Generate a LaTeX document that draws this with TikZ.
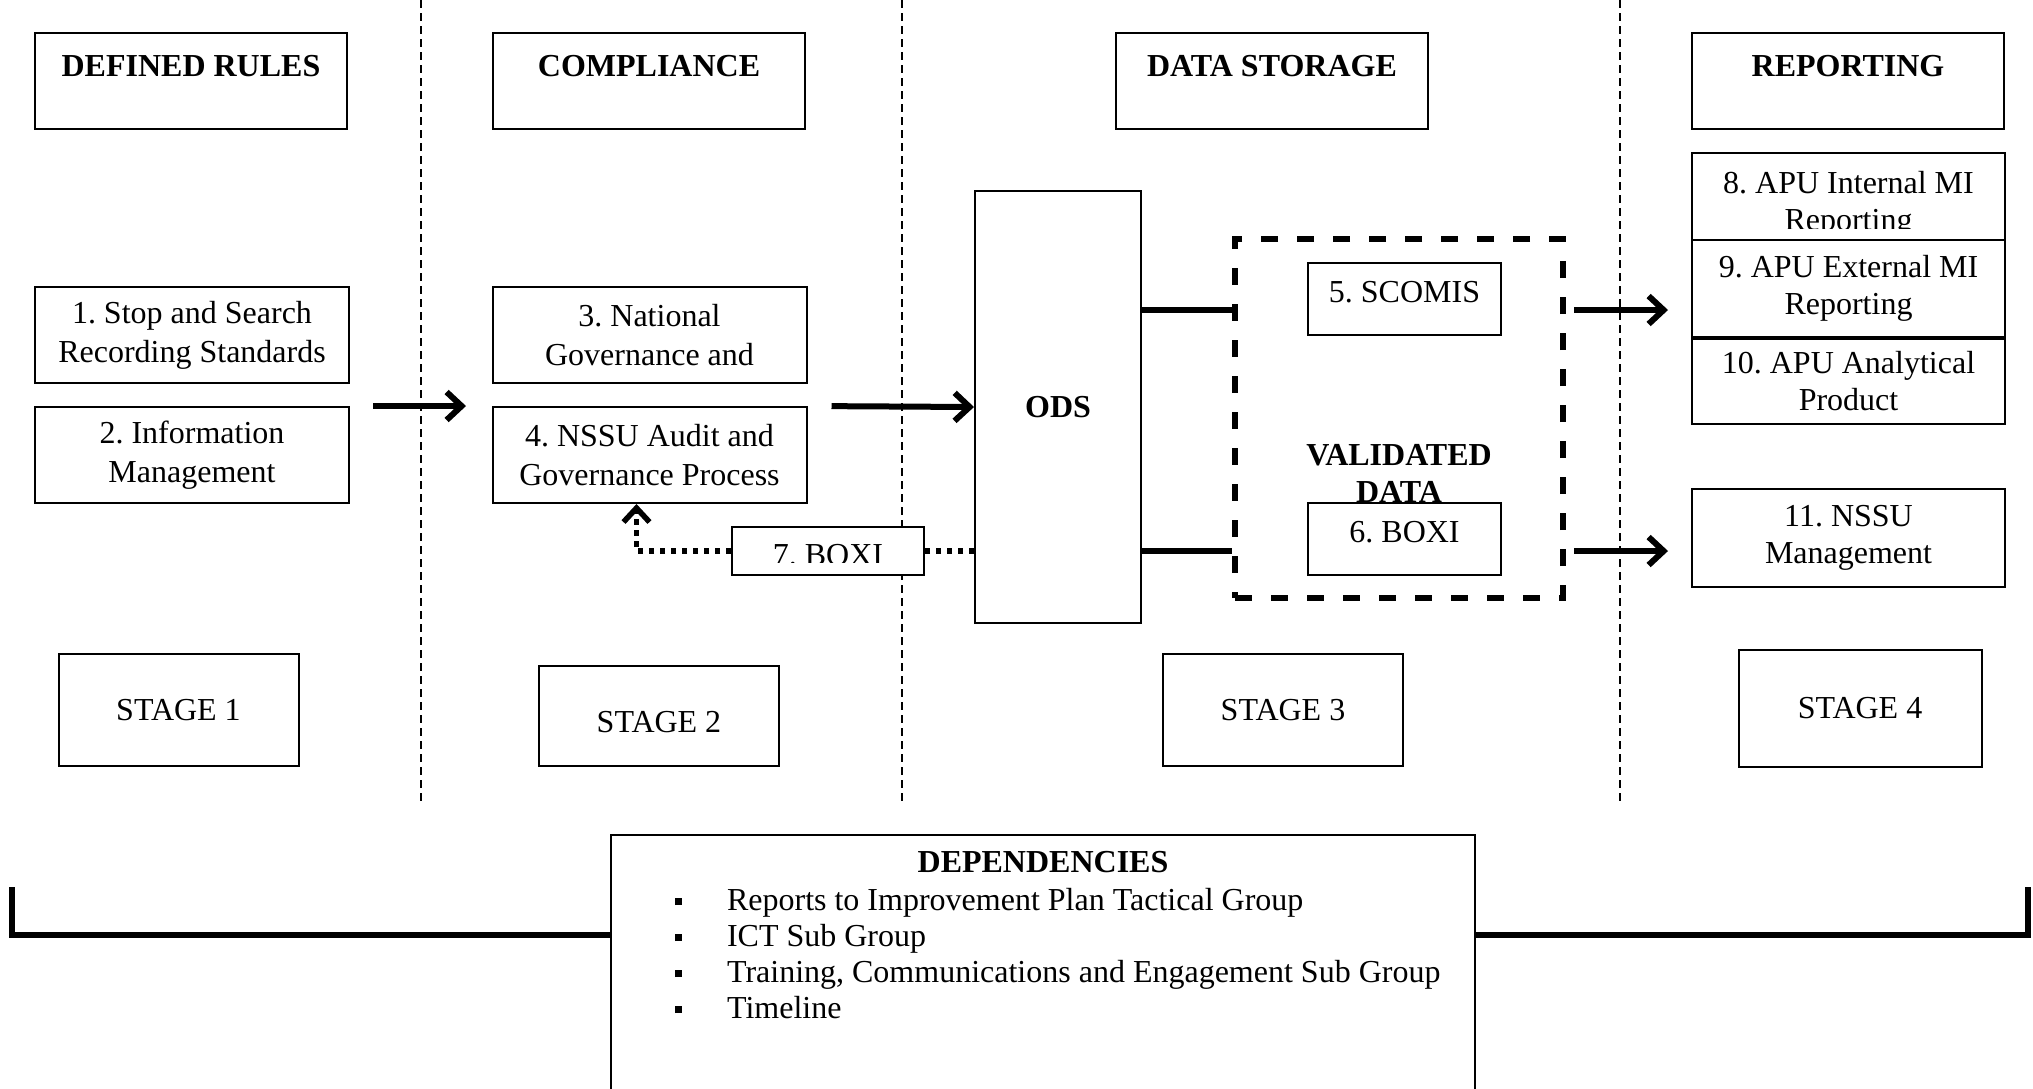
\documentclass[tikz,border=0pt]{standalone}
\usepackage{fontspec}
\setmainfont{Liberation Serif}
\usetikzlibrary{arrows.meta,positioning}
\frenchspacing

\tikzset{
  box/.style={draw, line width=1pt, align=center, inner sep=0pt, font=\fontsize{16}{19.5}\selectfont},
  headbox/.style={box, anchor=north, minimum width=156pt, text height=21.75pt, text depth=26.25pt, font=\fontsize{16}{19.5}\selectfont\bfseries},
  itembox/.style={box, minimum width=157pt, minimum height=48pt},
  repbox/.style={box, minimum width=156.5pt, font=\fontsize{16}{18.5}\selectfont},
  smallbox/.style={box, fill=white, minimum width=96.5pt, text height=19.75pt, text depth=16.25pt},
  stagebox/.style={box, minimum width=120pt, minimum height=56pt},
  pagesep/.style={line width=0.75pt, dash pattern=on 4pt off 2.5pt},
  flow/.style={line width=3pt, -{Straight Barb[length=7.5pt,width=14pt]}},
  link/.style={line width=3pt},
  dotflow/.style={line width=2.75pt, dash pattern=on 2.75pt off 2.75pt},
  valbox/.style={draw, line width=3pt, dash pattern=on 8.5pt off 9.5pt, inner sep=0pt, minimum width=164pt, minimum height=179.5pt},
}

\begin{document}
\begin{tikzpicture}[x=0.5pt, y=-0.5pt]
    \useasboundingbox (0,0) rectangle (2033,1088);
    \clip (0,0) rectangle (2033,1088);
    % Stage separators
    \draw[pagesep] (421,0) -- (421,801);
    \draw[pagesep] (902,0) -- (902,801);
    \draw[pagesep] (1620,0) -- (1620,801);
    % Headings
    \node[headbox] (rules) at (191,32) {DEFINED RULES};
    \node[headbox] (compl) at (649,32) {COMPLIANCE};
    \node[headbox] (store) at (1272,32) {DATA STORAGE};
    \node[headbox] (report) at (1848,32) {REPORTING};
    % Rules and compliance
    \node[itembox] (stop) at (192,335) {1. Stop and Search\\Recording Standards};
    \node[itembox] (info) at (192,455) {2. Information\\Management};
    \node[itembox] (natgov) at (649.5,335) {3. National\\Governance and};
    \node[itembox] (audit) at (649.5,455) {4. NSSU Audit and\\Governance Process};
    % Data storage
    \node[box, minimum width=83pt, minimum height=216pt, font=\fontsize{16}{19.5}\selectfont\bfseries] (ods) at (1058,407) {ODS};
    \node[valbox] (valid) at (1399,418.5) {};
    \node[font=\fontsize{16}{18.5}\selectfont\bfseries, align=center] (vtext) at (1399,473.5) {VALIDATED\\DATA};
    \node[smallbox] (scomis) at (1404.5,299) {5. SCOMIS};
    \node[smallbox] (boxi6) at (1404.5,539) {6. BOXI};
    % Reporting
    \node[repbox, minimum height=43.5pt] (mi8) at (1848.5,196.5) {};
    \begin{scope}
      \clip (mi8.north west) rectangle ([yshift=-15.75pt]mi8.east);
      \node[repbox, draw=none] (mi8txt) at (1848.5,204) {8. APU Internal MI\\Reporting};
    \end{scope}
    \node[repbox, minimum height=48.5pt] (mi9) at (1848.5,288.5) {9. APU External MI\\Reporting};
    \node[repbox, minimum height=42.5pt] (mi10) at (1848.5,381) {10. APU Analytical\\Product};
    \node[repbox, minimum height=49pt] (nssu) at (1848.5,538) {11. NSSU\\Management};
    % Stages
    \node[stagebox] (st1) at (178.5,710) {STAGE 1};
    \node[stagebox, minimum height=50pt, text height=16.6pt] (st2) at (659,716) {STAGE 2};
    \node[stagebox] (st3) at (1283,710) {STAGE 3};
    \node[stagebox, minimum width=121.5pt, minimum height=58.5pt] (st4) at (1860,708) {STAGE 4};
    % Flow
    \coordinate (hiY) at (0,310);
    \coordinate (loY) at (0,551);
    \draw[flow, shorten <=11.5pt, shorten >=12.75pt] (info.north east) -- (audit.north west);
    \draw[flow, shorten <=12pt] (audit.north east) -- (ods.west);
    \draw[link] (ods.east |- hiY) -- (valid.west |- hiY);
    \draw[link] (ods.east |- loY) -- (valid.west |- loY);
    \draw[flow, shorten <=4pt, shorten >=11.5pt] (valid.east |- hiY) -- (mi9.west |- hiY);
    \draw[flow, shorten <=4pt, shorten >=11.5pt] (valid.east |- loY) -- (nssu.west |- loY);
    % Feedback through BOXI
    \node[box, minimum width=96pt, minimum height=24pt, fill=white] (boxi7) at (828,551) {};
    \begin{scope}
      \clip (boxi7.north west) rectangle ([yshift=-5.5pt]boxi7.east);
      \node[font=\fontsize{16}{19.5}\selectfont, yshift=-2.25pt] (boxi7txt) at (boxi7) {7. BOXI};
    \end{scope}
    \draw[dotflow] (ods.west |- boxi7) -- (boxi7.east);
    \draw[dotflow, -{Straight Barb[length=7pt,width=13pt]}] (boxi7.west) -| ([xshift=-6.5pt]audit.south);
    % Dependencies
    \node[box, anchor=north, minimum width=432pt, minimum height=140pt] (dep) at (1043,834) {};
    \node[font=\fontsize{16}{18}\selectfont\bfseries, anchor=base] (deptitle) at (1043,872) {DEPENDENCIES};
    \foreach \entry [count=\i] in {Reports to Improvement Plan Tactical Group, ICT Sub Group, {Training, Communications and Engagement Sub Group}, Timeline}
      \node[font=\fontsize{16}{18}\selectfont, anchor=base west] (dep\i) at (668,874+36*\i) {\raisebox{2.5pt}{\rule{3.5pt}{3.5pt}}\hspace{22.5pt}\entry};
    \coordinate (brY) at (0,935);
    \coordinate (brL) at (12,887);
    \coordinate (brR) at (2028,887);
    \draw[link] (dep.west |- brY) -| (brL);
    \draw[link] (dep.east |- brY) -| (brR);
\end{tikzpicture}
\end{document}
